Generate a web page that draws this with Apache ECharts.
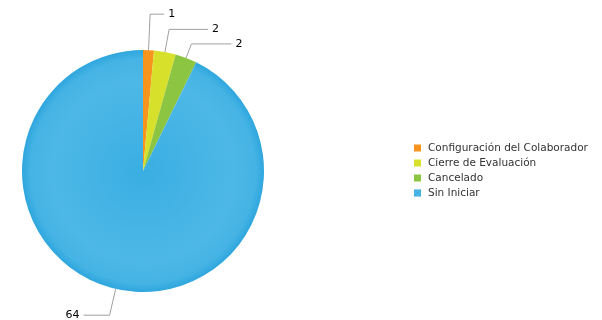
<!DOCTYPE html>
<html>
<head>
<meta charset="utf-8">
<script src="https://cdn.jsdelivr.net/npm/echarts@6/dist/echarts.min.js"></script>
<style>
  html, body { margin: 0; padding: 0; background: #fff; }
  #chart { width: 602px; height: 320px; }
</style>
</head>
<body>
<div id="chart"></div>
<script>
  // datos del grafico
  var categories = ['Configuración del Colaborador', 'Cierre de Evaluación', 'Cancelado', 'Sin Iniciar'];
  var values = [1, 2, 2, 64];
  var colors = ['#f7941d', '#d7e02a', '#8cc541', '#39ade2'];
  // largo de los conectores de cada etiqueta
  var lineLen = [36, 23, 15, 27];
  var lineLen2 = [14, 39, 40, 26];

  var blueFill = {
    type: 'radial', x: 0.5, y: 0.5, r: 0.5,
    colorStops: [
      { offset: 0, color: '#3aaee2' },
      { offset: 0.75, color: '#4db8e7' },
      { offset: 0.93, color: '#45b3e4' },
      { offset: 1, color: '#2ea6de' }
    ]
  };

  var chart = echarts.init(document.getElementById('chart'));

  var option = {
    animation: false,
    color: colors,
    legend: {
      orient: 'vertical',
      left: 409,
      top: 137,
      itemWidth: 7,
      itemHeight: 7,
      itemGap: 3,
      icon: 'rect',
      textStyle: { fontFamily: 'DejaVu Sans', fontSize: 10.5, lineHeight: 12, color: '#333', padding: [0, 0, 0, 2] },
      data: categories
    },
    series: [{
      type: 'pie',
      center: [143, 171],
      radius: 121,
      startAngle: 90,
      clockwise: true,
      avoidLabelOverlap: false,
      label: {
        show: true,
        formatter: '{c}',
        fontFamily: 'DejaVu Sans',
        fontSize: 11,
        color: '#000',
        distanceToLabelLine: 4
      },
      labelLine: {
        show: true,
        smooth: false,
        lineStyle: { color: '#a0a0a0', width: 1 }
      },
      itemStyle: { borderWidth: 0 },
      data: categories.map(function (name, i) {
        var d = {
          name: name,
          value: values[i],
          labelLine: { length: lineLen[i], length2: lineLen2[i] }
        };
        if (i === 3) d.itemStyle = { color: blueFill };
        return d;
      })
    }]
  };

  chart.setOption(option);
</script>
</body>
</html>
